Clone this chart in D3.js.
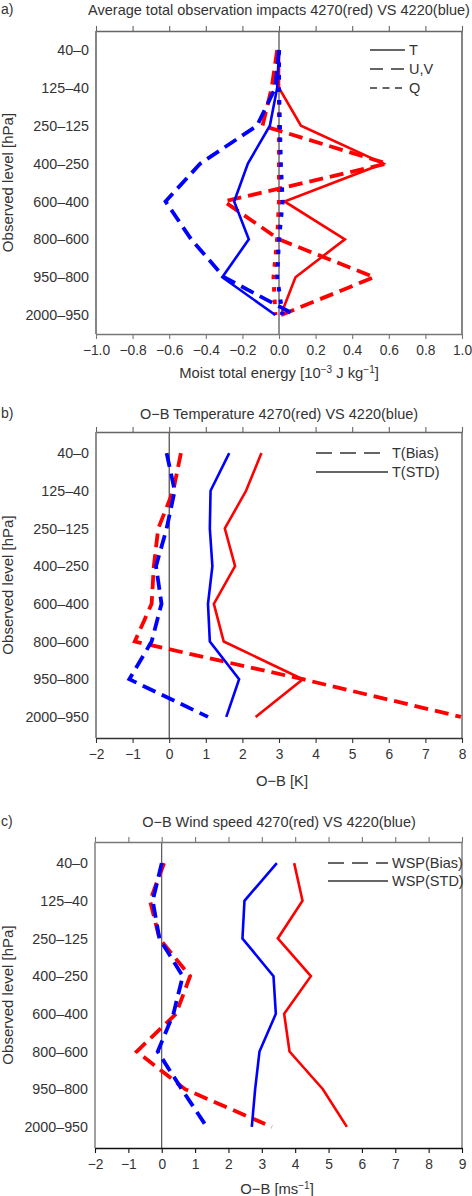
<!DOCTYPE html>
<html>
<head>
<meta charset="utf-8">
<script src="https://cdn.jsdelivr.net/npm/d3@7"></script>
<style>
  html, body { margin: 0; padding: 0; background: #fff; }
  svg { display: block; }
  text { font-family: "Liberation Sans", Arial, Helvetica, sans-serif; fill: #333; }
</style>
</head>
<body>
<svg id="chart" width="472" height="1196"></svg>
<script>
// ---------- DATA ----------
const levels = ["40–0","125–40","250–125","400–250","600–400","800–600","950–800","2000–950"];

// Panel a: average total observation impacts (moist total energy, 10^-3 J/kg)
const aRedT   = [0.0, 0.0, 0.12, 0.57, 0.03, 0.36, 0.09, 0.01];
const aRedUV  = [-0.01, -0.04, -0.09, 0.59, -0.30, 0.0, 0.52, 0.01];
const aRedQ   = [0.0, 0.0, 0.0, 0.0, 0.0, -0.01, -0.03, -0.02];
const aBlueT  = [0.0, -0.01, -0.05, -0.17, -0.245, -0.165, -0.31, -0.02];
const aBlueUV = [0.0, -0.02, -0.12, -0.43, -0.62, -0.48, -0.30, 0.09];
const aBlueQ  = [0.0, 0.0, 0.005, 0.01, 0.02, 0.0, -0.01, 0.02];
const aTicks  = [-1.0,-0.8,-0.6,-0.4,-0.2,0.0,0.2,0.4,0.6,0.8,1.0];

// Panel b: O-B temperature (K)
const bRedBias  = [0.32, 0.11, -0.30, -0.42, -0.48, -0.94, 3.65, 7.97];
const bBlueBias = [-0.07, 0.15, -0.07, -0.36, -0.21, -0.48, -1.09, 1.06];
const bRedSTD   = [2.52, 2.10, 1.52, 1.80, 1.22, 1.49, 3.65, 2.36];
const bBlueSTD  = [1.64, 1.13, 1.11, 1.18, 1.06, 1.11, 1.91, 1.56];
const bTicks    = [-2,-1,0,1,2,3,4,5,6,7,8];

// Panel c: O-B wind speed (m/s)
const cRedBias  = [0.07, -0.35, -0.07, 0.85, 0.43, -0.75, 0.70, 3.30];
const cBlueBias = [0.0, -0.27, -0.07, 0.63, 0.35, -0.12, 0.60, 1.35];
const cRedSTD   = [3.97, 4.22, 3.48, 4.47, 3.67, 3.83, 4.83, 5.55];
const cBlueSTD  = [3.45, 2.48, 2.42, 3.35, 3.42, 2.93, 2.80, 2.70];
const cTicks    = [-2,-1,0,1,2,3,4,5,6,7,8,9];

// ---------- STYLES ----------
const RED = "#ff0000", BLUE = "#0000ff";
const SOLID = {w: 2.6, dash: null};
const DASH  = {w: 3.8, dash: "14,7"};
const DOT   = {w: 4, dash: "4.5,8"};

const svg = d3.select("#chart");
const minus = s => String(s).replace("-", "\u2212");

function panel(cfg) {
  const g = svg.append("g");
  const x = d3.scaleLinear().domain(cfg.domain).range([cfg.left, cfg.right]);
  const y = d3.scalePoint().domain(levels).range([cfg.top, cfg.bottom]).padding(cfg.pad);

  // zero line
  g.append("line").attr("x1", x(0)).attr("x2", x(0)).attr("y1", cfg.top).attr("y2", cfg.bottom)
    .attr("stroke", cfg.zeroColor).attr("stroke-width", cfg.zeroW);

  // series
  const line = d3.line().x(d => x(d[0])).y(d => y(d[1]));
  cfg.series.forEach(s => {
    g.append("path").datum(s.values.map((v, i) => [v, levels[i]]))
      .attr("d", line).attr("fill", "none")
      .attr("stroke", s.color).attr("stroke-width", s.style.w)
      .attr("stroke-dasharray", s.style.dash)
      .attr("stroke-linejoin", "miter");
  });

  // box: left/right borders
  g.append("line").attr("x1", cfg.left).attr("x2", cfg.left).attr("y1", cfg.top).attr("y2", cfg.bottom)
    .attr("stroke", cfg.sideColor).attr("stroke-width", cfg.sideW);
  g.append("line").attr("x1", cfg.right).attr("x2", cfg.right).attr("y1", cfg.top).attr("y2", cfg.bottom)
    .attr("stroke", cfg.sideColor).attr("stroke-width", cfg.sideW);

  // top axis (ticks only)
  const top = g.append("g").attr("transform", `translate(0,${cfg.top})`)
    .call(d3.axisTop(x).tickValues(cfg.ticks).tickSize(5).tickSizeOuter(0).tickFormat(""));
  top.select(".domain").attr("stroke", cfg.topColor).attr("stroke-width", 1.3);
  top.selectAll(".tick line").attr("stroke", cfg.topColor).attr("stroke-width", 1.1);

  // bottom axis
  const bot = g.append("g").attr("transform", `translate(0,${cfg.bottom})`)
    .call(d3.axisBottom(x).tickValues(cfg.ticks).tickSize(5).tickSizeOuter(0).tickPadding(6)
      .tickFormat(d => minus(cfg.fmt(d))));
  bot.select(".domain").attr("stroke", cfg.botColor).attr("stroke-width", 1.3);
  bot.selectAll(".tick line").attr("stroke", cfg.botColor).attr("stroke-width", 1.1);
  bot.selectAll(".tick text").attr("fill", "#333").attr("font-size", "13.8px")
    .attr("font-family", '"Liberation Sans", Arial, sans-serif');

  // y labels
  g.selectAll(".ylab").data(levels).enter().append("text")
    .attr("x", cfg.left - 7).attr("y", d => y(d)).attr("dy", "0.36em")
    .attr("text-anchor", "end").attr("font-size", "14.3px").text(d => d);

  // y axis title
  const cy = (cfg.top + cfg.bottom) / 2;
  g.append("text").attr("transform", `translate(13,${cy}) rotate(-90)`)
    .attr("text-anchor", "middle").attr("font-size", "15px").text("Observed level [hPa]");

  // title & panel label
  g.append("text").attr("x", 279).attr("y", cfg.titleY).attr("text-anchor", "middle")
    .attr("font-size", "14.5px").text(cfg.title);
  g.append("text").attr("x", 1).attr("y", cfg.titleY - 1).attr("font-size", "14px").text(cfg.label);

  // x axis title
  const xt = g.append("text").attr("x", cfg.xTitleX).attr("y", cfg.xTitleY).attr("text-anchor", "middle")
    .attr("font-size", "14.8px");
  cfg.xTitle.forEach(p => {
    const t = xt.append("tspan").text(p.t);
    if (p.sup) t.attr("baseline-shift", "super").attr("font-size", "10px");
  });

  // legend
  cfg.legend.forEach((l, i) => {
    const ly = cfg.legY + i * cfg.legStep;
    g.append("line").attr("x1", cfg.legX1).attr("x2", cfg.legX2).attr("y1", ly).attr("y2", ly)
      .attr("stroke", "#333").attr("stroke-width", 1.3).attr("stroke-dasharray", l.dash);
    g.append("text").attr("x", cfg.legX2 + 4).attr("y", ly).attr("dy", "0.36em")
      .attr("font-size", "14.5px").text(l.t);
  });
}

// Panel a
panel({
  domain: [-1, 1], left: 96, right: 462, top: 31, bottom: 334, pad: 0.5,
  ticks: aTicks, fmt: d3.format(".1f"),
  zeroColor: "#777", zeroW: 1.6, sideColor: "#222", sideW: 1.1, topColor: "#666", botColor: "#777",
  title: "Average total observation impacts 4270(red) VS 4220(blue)", titleY: 15, label: "a)",
  xTitle: [{t: "Moist total energy [10"}, {t: "\u22123", sup: true}, {t: " J kg"}, {t: "\u22121", sup: true}, {t: "]"}],
  xTitleX: 279, xTitleY: 378,
  legend: [{t: "T", dash: null}, {t: "U,V", dash: "13,8"}, {t: "Q", dash: "7,5.5"}],
  legX1: 370, legX2: 405, legY: 50, legStep: 19,
  series: [
    {values: aRedQ, color: RED, style: DOT},
    {values: aRedUV, color: RED, style: DASH},
    {values: aRedT, color: RED, style: SOLID},
    {values: aBlueUV, color: BLUE, style: DASH},
    {values: aBlueT, color: BLUE, style: SOLID},
    {values: aBlueQ, color: BLUE, style: DOT}
  ]
});

// Panel b
panel({
  domain: [-2, 8], left: 96, right: 462, top: 432, bottom: 738, pad: 0.56,
  ticks: bTicks, fmt: d3.format("d"),
  zeroColor: "#222", zeroW: 1, sideColor: "#333", sideW: 1.1, topColor: "#666", botColor: "#333",
  title: "O\u2212B Temperature 4270(red) VS 4220(blue)", titleY: 419, label: "b)",
  xTitle: [{t: "O\u2212B [K]"}], xTitleX: 282, xTitleY: 786,
  legend: [{t: "T(Bias)", dash: "16,8"}, {t: "T(STD)", dash: null}],
  legX1: 316, legX2: 388, legY: 453, legStep: 19,
  series: [
    {values: bRedBias, color: RED, style: DASH},
    {values: bRedSTD, color: RED, style: SOLID},
    {values: bBlueBias, color: BLUE, style: DASH},
    {values: bBlueSTD, color: BLUE, style: SOLID}
  ]
});

// Panel c
panel({
  domain: [-2, 9], left: 95, right: 462, top: 842, bottom: 1148, pad: 0.56,
  ticks: cTicks, fmt: d3.format("d"),
  zeroColor: "#333", zeroW: 1, sideColor: "#888", sideW: 1.6, topColor: "#777", botColor: "#111",
  title: "O\u2212B Wind speed 4270(red) VS 4220(blue)", titleY: 827, label: "c)",
  xTitle: [{t: "O\u2212B [ms"}, {t: "\u22121", sup: true}, {t: "]"}], xTitleX: 277, xTitleY: 1194,
  legend: [{t: "WSP(Bias)", dash: "16,8"}, {t: "WSP(STD)", dash: null}],
  legX1: 328, legX2: 388, legY: 863, legStep: 18,
  series: [
    {values: cRedBias, color: RED, style: DASH},
    {values: cRedSTD, color: RED, style: SOLID},
    {values: cBlueBias, color: BLUE, style: DASH},
    {values: cBlueSTD, color: BLUE, style: SOLID}
  ]
});
</script>
</body>
</html>
